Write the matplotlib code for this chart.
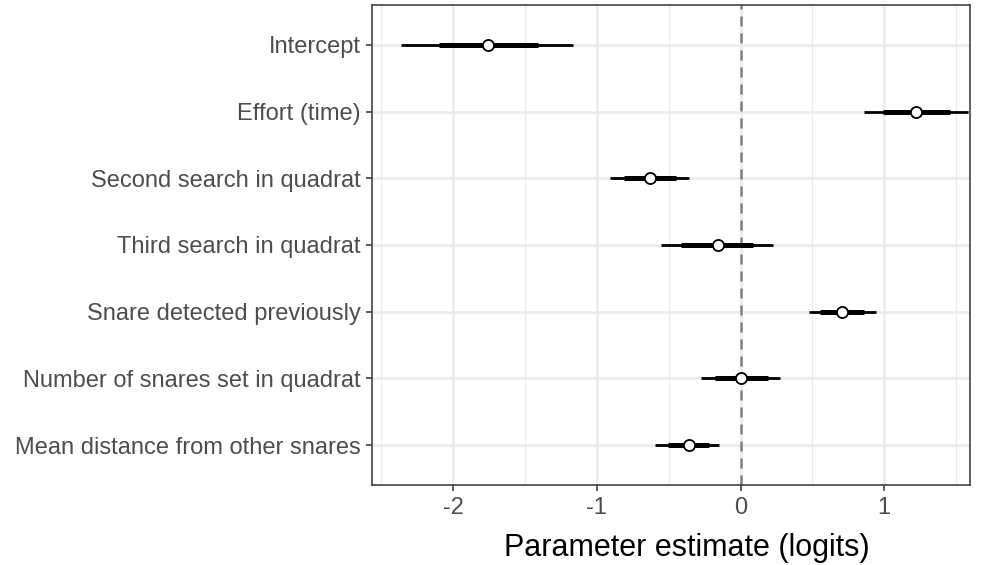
import matplotlib
matplotlib.use("Agg")
import matplotlib.pyplot as plt
from matplotlib.ticker import MultipleLocator

labels = ["Intercept", "Effort (time)", "Second search in quadrat", "Third search in quadrat",
          "Snare detected previously", "Number of snares set in quadrat",
          "Mean distance from other snares"]
est = [-1.758, 1.223, -0.629, -0.158, 0.708, 0.003, -0.361]
outer_lo = [-2.362, 0.857, -0.906, -0.551, 0.476, -0.275, -0.593]
outer_hi = [-1.162, 1.584, -0.358, 0.228, 0.944, 0.277, -0.147]
inner_lo = [-2.099, 0.989, -0.812, -0.417, 0.555, -0.175, -0.503]
inner_hi = [-1.410, 1.455, -0.446, 0.089, 0.859, 0.189, -0.217]
xticks = [-2, -1, 0, 1]

plt.rcParams['font.family'] = ['Liberation Sans', 'DejaVu Sans']
plt.rcParams['axes.unicode_minus'] = False

fig = plt.figure(figsize=(9.87, 5.65), dpi=100)
ax = fig.add_axes([372/987, 80/565, (970-372)/987, 480/565])

n = len(labels)
ys = list(range(n, 0, -1))

ax.set_xlim(-2.563, 1.596)
ax.set_ylim(0.4, n + 0.6)
ax.set_xticks(xticks)
ax.xaxis.set_minor_locator(MultipleLocator(0.5))
ax.set_yticks(ys)
ax.set_yticklabels(labels)

ax.grid(True, which='major', color='#EBEBEB', linewidth=1.8, zorder=0)
ax.grid(True, which='minor', axis='x', color='#EBEBEB', linewidth=0.9, zorder=0)
ax.set_axisbelow(True)
ax.tick_params(which='minor', length=0)
ax.tick_params(which='major', length=4, width=1.1, color='#333333', labelsize=17,
               labelcolor='#4D4D4D')
ax.tick_params(axis='y', pad=4)
ax.tick_params(axis='x', pad=5)

ax.axvline(0, color='#808080', linestyle=(0, (4, 2.8)), linewidth=1.8, zorder=1)

for y, e, ol, oh, il, ih in zip(ys, est, outer_lo, outer_hi, inner_lo, inner_hi):
    ax.plot([ol, oh], [y, y], color='black', linewidth=2.0, solid_capstyle='butt', zorder=2)
    ax.plot([il, ih], [y, y], color='black', linewidth=3.6, solid_capstyle='butt', zorder=3)
    ax.plot([e], [y], marker='o', markersize=8, markerfacecolor='white',
            markeredgecolor='black', markeredgewidth=1.3, linestyle='none', zorder=4)

for s in ax.spines.values():
    s.set_color('#333333')
    s.set_linewidth(1.1)

ax.set_xlabel("Parameter estimate (logits)", fontsize=22, color='black', labelpad=9.5)
ax.xaxis.label.set_x((686.5 - 372) / 598)

fig.savefig("out.png", dpi=100)
